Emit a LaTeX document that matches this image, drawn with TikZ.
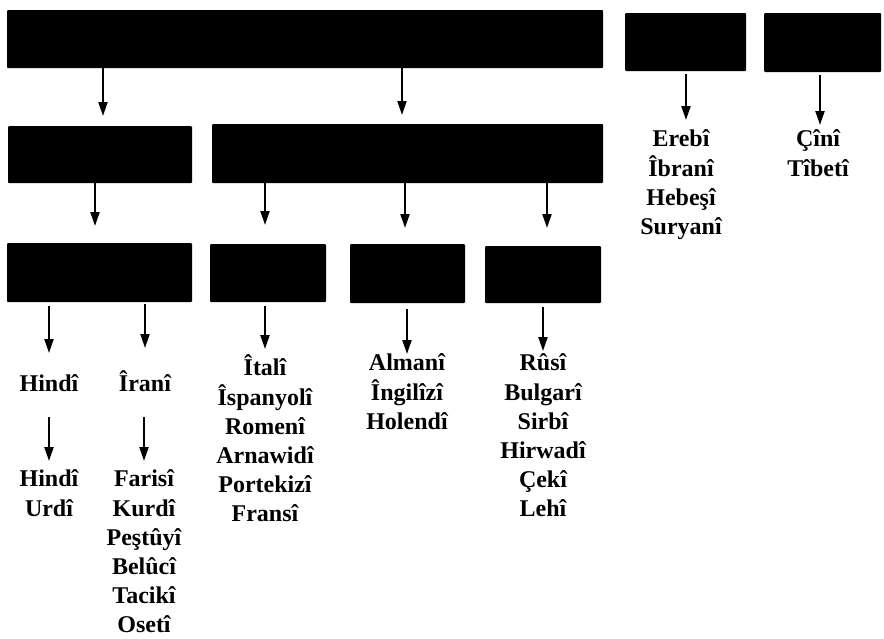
\documentclass[tikz,border=0pt]{standalone}
\usepackage{fontspec}
\setmainfont{Liberation Serif}
\usetikzlibrary{arrows.meta,calc}
\tikzset{
  blk/.style={fill=black, draw=none, inner sep=0pt, outer sep=0pt, anchor=north west, rounded corners=1pt},
  lst/.style={align=center, anchor=north, inner sep=0pt, outer sep=0pt,
    font=\fontsize{24}{29.2}\selectfont\bfseries, execute at begin node=\strut},
  arr/.style={line width=2.1pt, -{Triangle[length=14pt,width=9pt]}}
}
\begin{document}
\begin{tikzpicture}[x=1pt,y=-1pt]
\useasboundingbox (0,0) rectangle (884,638);
% boxes
\node[blk, minimum width=596pt, minimum height=58pt] (top)  at (7,10) {};
\node[blk, minimum width=121pt, minimum height=58pt] (ereb) at (625,13) {};
\node[blk, minimum width=117pt, minimum height=59pt] (cin)  at (764,13) {};
\node[blk, minimum width=184pt, minimum height=57pt] (hi)   at (8,126) {};
\node[blk, minimum width=391pt, minimum height=59pt] (eu)   at (212,124) {};
\node[blk, minimum width=185pt, minimum height=59pt] (ba)   at (7,243) {};
\node[blk, minimum width=116pt, minimum height=58pt] (bb)   at (210,244) {};
\node[blk, minimum width=115pt, minimum height=59pt] (bc)   at (350,244) {};
\node[blk, minimum width=116pt, minimum height=57pt] (bd)   at (485,246) {};
% coordinates for arrow columns
\coordinate (c1) at (103,0);
\coordinate (c2) at (402,0);
\coordinate (c3) at (686,0);
\coordinate (c4) at (820,0);
\coordinate (c5) at (95,0);
\coordinate (c6) at (265,0);
\coordinate (c7) at (405,0);
\coordinate (c8) at (547,0);
% texts
\node[lst] (erebt) at (681,130) {Erebî\\Îbranî\\Hebeşî\\Suryanî};
\node[lst] (cint)  at (818,130) {Çînî\\Tîbetî};
\node[lst] (hindi) at (49,371) {Hindî};
\node[lst] (irani) at (145,371) {Îranî};
\node[lst] (hindu) at (49,470) {Hindî\\Urdî};
\node[lst] (faris) at (144,470) {Farisî\\Kurdî\\Peştûyî\\Belûcî\\Tacikî\\Osetî};
\node[lst] (itali) at (265,355) {Îtalî\\Îspanyolî\\Romenî\\Arnawidî\\Portekizî\\Fransî};
\node[lst] (alman) at (407,354) {Almanî\\Îngilîzî\\Holendî};
\node[lst] (rusi)  at (543,354) {Rûsî\\Bulgarî\\Sirbî\\Hirwadî\\Çekî\\Lehî};
% arrows between levels
\draw[arr] (c1 |- top.south) -- ([yshift=10pt]c1 |- hi.north);
\draw[arr] (c2 |- top.south) -- ([yshift=9pt]c2 |- eu.north);
\draw[arr] ([yshift=-3pt]c3 |- ereb.south) -- ([yshift=10pt]c3 |- erebt.north);
\draw[arr] ([yshift=-3pt]c4 |- cin.south) -- ([yshift=5pt]c4 |- cint.north);
\draw[arr] (c5 |- hi.south) -- ([yshift=17pt]c5 |- ba.north);
\draw[arr] (c6 |- eu.south) -- ([yshift=19pt]c6 |- bb.north);
\draw[arr] (c7 |- eu.south) -- ([yshift=16pt]c7 |- bc.north);
\draw[arr] (c8 |- eu.south) -- ([yshift=18pt]c8 |- bd.north);
% arrows to text lists
\draw[arr] ([yshift=-4pt]hindi.north |- ba.south) -- ([yshift=18pt]hindi.north);
\draw[arr] ([yshift=-2pt]irani.north |- ba.south) -- ([yshift=23pt]irani.north);
\draw[arr] ([yshift=-46pt]hindi.north) -- ([yshift=9pt]hindu.north);
\draw[arr] ([yshift=-46pt]faris.north |- irani.north) -- ([yshift=9pt]faris.north);
\draw[arr] ([yshift=-4pt]itali.north |- bb.south) -- ([yshift=6pt]itali.north);
\draw[arr] ([yshift=-6pt]alman.north |- bc.south) -- ([yshift=0pt]alman.north);
\draw[arr] ([yshift=-4pt]rusi.north |- bd.south) -- ([yshift=3pt]rusi.north);
\end{tikzpicture}
\end{document}
